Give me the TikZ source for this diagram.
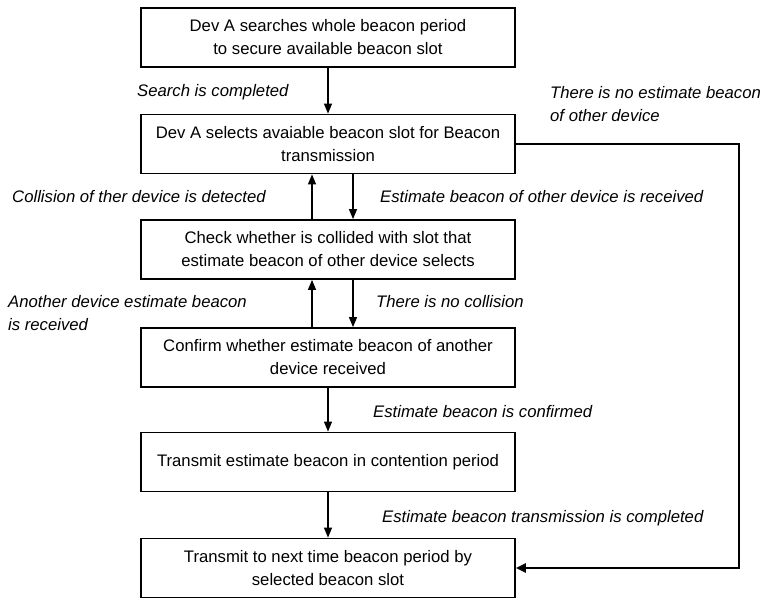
\documentclass[tikz,border=0pt]{standalone}
\usepackage{fontspec}
\setmainfont{Liberation Sans}
\usetikzlibrary{arrows.meta}
\begin{document}
\begin{tikzpicture}[x=1pt,y=-1pt,
  box/.style={draw, line width=1.8pt, minimum width=374pt, minimum height=59pt,
    inner sep=0pt, align=center, font=\fontsize{16.7}{23}\selectfont},
  lab/.style={font=\fontsize{16.7}{23}\selectfont\itshape, inner sep=0pt, align=left},
  arr/.style={line width=1.3pt, -{Triangle[length=10pt,width=8pt]}},
  bigarr/.style={line width=2.4pt, -{Triangle[length=10pt,width=9pt]}},
]
\useasboundingbox (0,0) rectangle (765,599);
\node[box] (b1) at (328,37.5) {Dev A searches whole beacon period\\to secure available beacon slot};
\node[box] (b2) at (328,144) {Dev A selects avaiable beacon slot for Beacon\\transmission};
\node[box] (b3) at (328,249.5) {Check whether is collided with slot that\\estimate beacon of other device selects};
\node[box] (b4) at (328,357.5) {Confirm whether estimate beacon of another\\device received};
\node[box] (b5) at (328,462) {Transmit estimate beacon in contention period};
\node[box] (b6) at (328,568) {Transmit to next time beacon period by\\selected beacon slot};

\coordinate (rt) at (739,0);

\draw[arr] (b1) -- (b2);
\draw[arr] ([xshift=-16pt]b3.north) -- ([xshift=-16pt]b2.south);
\draw[arr] ([xshift=25pt]b2.south) -- ([xshift=25pt]b3.north);
\draw[arr] ([xshift=-16pt]b4.north) -- ([xshift=-16pt]b3.south);
\draw[arr] ([xshift=25pt]b3.south) -- ([xshift=25pt]b4.north);
\draw[arr] (b4) -- (b5);
\draw[arr] (b5) -- (b6);
\draw[bigarr] (b2.east) -- (b2.east -| rt) -- (b6.east -| rt) -- (b6.east);

\node[lab, anchor=west] (l1) at (137,92) {Search is completed};
\node[lab, anchor=west] (l2) at (550,104) {There is no estimate beacon\\of other device};
\node[lab, anchor=west] (l3) at (12,197) {Collision of ther device is detected};
\node[lab, anchor=west] (l4) at (380,197) {Estimate beacon of other device is received};
\node[lab, anchor=west] (l5) at (8,313) {Another device estimate beacon\\is received};
\node[lab, anchor=west] (l6) at (376,302) {There is no collision};
\node[lab, anchor=west] (l7) at (373,412) {Estimate beacon is confirmed};
\node[lab, anchor=west] (l8) at (382,518) {Estimate beacon transmission is completed};
\end{tikzpicture}
\end{document}
